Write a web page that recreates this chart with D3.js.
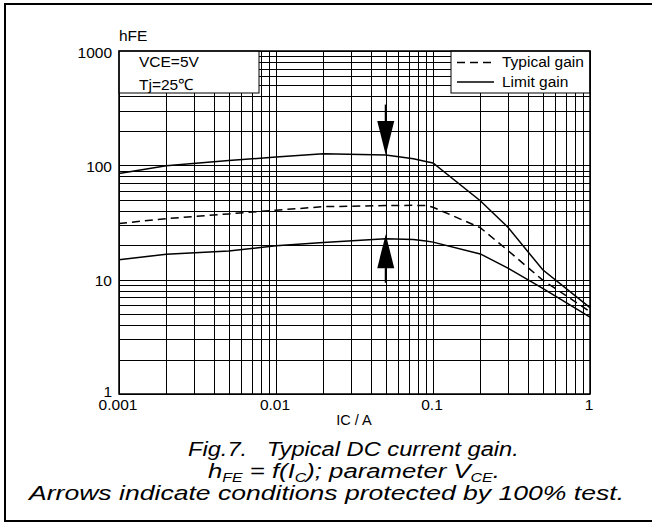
<!DOCTYPE html>
<html>
<head>
<meta charset="utf-8">
<script src="https://cdn.jsdelivr.net/npm/d3@7/dist/d3.min.js"></script>
<style>
  html, body { margin: 0; padding: 0; background: #fff; }
  svg { display: block; }
  text { font-family: "Liberation Sans", Arial, sans-serif; fill: #000; }
</style>
</head>
<body>
<svg id="chart" width="652" height="525"></svg>
<script>
// ---- data ----
const icValues      = [0.001, 0.002, 0.005, 0.01, 0.02, 0.05, 0.075, 0.09, 0.1, 0.2, 0.3, 0.5, 1];
const limitUpper    = [85, 99, 110, 118, 126, 123, 114, 108, 105, 49, 28.7, 12.2, 5.7];
const typicalGain   = [31, 34.2, 37.6, 40.5, 43.5, 44.5, 44.7, 44.5, 43, 28.5, 18, 9.9, 5.25];
const limitLower    = [14.9, 16.7, 17.8, 19.8, 21.1, 22.8, 22.5, 21.8, 21.3, 16.8, 12.6, 8.4, 4.7];
const xTickValues   = [0.001, 0.01, 0.1, 1];
const xTickLabels   = ["0.001", "0.01", "0.1", "1"];
const yTickValues   = [1, 10, 100, 1000];
const yTickLabels   = ["1", "10", "100", "1000"];
const arrowDown     = { ic: 0.05, from: 340, to: 123 };
const arrowUp       = { ic: 0.05, from: 9.4, to: 25 };
const conditions    = ["VCE=5V", "Tj=25\u2103"];
const legendLabels  = ["Typical gain", "Limit gain"];

// ---- layout ----
const svg = d3.select("#chart");
const L = 119, R = 590, T = 51, B = 394;
const x = d3.scaleLog().domain([0.001, 1]).range([L, R]);
const y = d3.scaleLog().domain([1, 1000]).range([B, T]);

// outer frame
svg.append("rect").attr("x", 5).attr("y", 4).attr("width", 660).attr("height", 517)
  .attr("fill", "none").attr("stroke", "#000").attr("stroke-width", 2);

// grid
const gx = [];
for (let d = 0.001; d < 1; d *= 10) for (let m = 1; m <= 9; m++) gx.push(+(d * m).toPrecision(3));
gx.push(1);
const gy = [];
for (let d = 1; d < 1000; d *= 10) for (let m = 1; m <= 9; m++) gy.push(d * m);
gy.push(1000);

const grid = svg.append("g").attr("stroke", "#000").attr("stroke-width", 1).attr("shape-rendering", "crispEdges");
grid.selectAll("line.v").data(gx).join("line").attr("class", "v")
  .attr("x1", d => Math.round(x(d)) + 0.5).attr("x2", d => Math.round(x(d)) + 0.5)
  .attr("y1", T).attr("y2", B);
grid.selectAll("line.h").data(gy).join("line").attr("class", "h")
  .attr("x1", L).attr("x2", R)
  .attr("y1", d => Math.round(y(d)) + 0.5).attr("y2", d => Math.round(y(d)) + 0.5);

// curves
const line = d3.line().x((d, i) => x(icValues[i])).y(d => y(d));
const curves = svg.append("g").attr("fill", "none").attr("stroke", "#000").attr("stroke-width", 1.5);
curves.append("path").attr("d", line(limitUpper));
curves.append("path").attr("d", line(limitLower));
curves.append("path").attr("d", line(typicalGain)).attr("stroke-dasharray", "8,5");

// arrows
function arrow(a) {
  const ax = x(a.ic), y0 = y(a.from), y1 = y(a.to);
  const dir = y1 > y0 ? 1 : -1;
  const headLen = 34, headW = 8.5;
  svg.append("line").attr("x1", ax).attr("x2", ax).attr("y1", y0).attr("y2", y1 - dir * headLen)
    .attr("stroke", "#000").attr("stroke-width", 2);
  svg.append("path")
    .attr("d", `M${ax},${y1} L${ax - headW},${y1 - dir * headLen} L${ax + headW},${y1 - dir * headLen} Z`)
    .attr("fill", "#000");
}
arrow(arrowDown);
arrow(arrowUp);

// condition box
svg.append("rect").attr("x", L).attr("y", T).attr("width", 140).attr("height", 42)
  .attr("fill", "#fff").attr("stroke", "#000").attr("stroke-width", 1);
svg.selectAll("text.cond").data(conditions).join("text").attr("class", "cond")
  .attr("x", 139).attr("y", (d, i) => 67 + i * 22.5).attr("font-size", 15.5).text(d => d);

// legend box
svg.append("rect").attr("x", 451).attr("y", T).attr("width", R - 451).attr("height", 42)
  .attr("fill", "#fff").attr("stroke", "#000").attr("stroke-width", 1);
const lg = svg.append("g");
legendLabels.forEach((lab, i) => {
  const ly = 62.5 + i * 19.5;
  lg.append("line").attr("x1", 457).attr("x2", 494).attr("y1", ly).attr("y2", ly)
    .attr("stroke", "#000").attr("stroke-width", 1.5)
    .attr("stroke-dasharray", i === 0 ? "8,5" : null);
  lg.append("text").attr("x", 502).attr("y", ly + 4.5).attr("font-size", 15.5).text(lab);
});

// plot frame
svg.append("rect").attr("x", L).attr("y", T).attr("width", R - L).attr("height", B - T)
  .attr("fill", "none").attr("stroke", "#000").attr("stroke-width", 1.5);

// y ticks
svg.selectAll("text.yt").data(yTickValues).join("text").attr("class", "yt")
  .attr("x", 112).attr("y", (d, i) => y(d) + (d === 1 ? 3 : 6.5))
  .attr("text-anchor", "end").attr("font-size", 15.5).text((d, i) => yTickLabels[i]);
// x ticks
svg.selectAll("text.xt").data(xTickValues).join("text").attr("class", "xt")
  .attr("x", d => x(d) - 1).attr("y", 410)
  .attr("text-anchor", "middle").attr("font-size", 15.5).text((d, i) => xTickLabels[i]);

// axis titles
svg.append("text").attr("x", 119).attr("y", 41).attr("font-size", 15.5).text("hFE");
svg.append("text").attr("x", 354).attr("y", 425).attr("text-anchor", "middle").attr("font-size", 14.5).text("IC / A");

// caption, fitted to the reference extents
function fit(sel, left, right) {
  const w = sel.node().getBBox().width;
  const s = (right - left) / w;
  sel.attr("transform", `translate(${left},0) scale(${s},1) translate(${-left},0)`);
}
const cap = svg.append("g").attr("font-style", "italic");
const t1 = cap.append("text").attr("x", 188).attr("y", 456).attr("font-size", 21)
  .attr("xml:space", "preserve").text("Fig.7.   Typical DC current gain.");
fit(t1, 188, 519);
const t2 = cap.append("text").attr("x", 208).attr("y", 478).attr("font-size", 21);
t2.append("tspan").text("h");
t2.append("tspan").attr("font-size", 13).attr("dy", 4).text("FE");
t2.append("tspan").attr("dy", -4).text(" = f(I");
t2.append("tspan").attr("font-size", 13).attr("dy", 4).text("C");
t2.append("tspan").attr("dy", -4).text("); parameter V");
t2.append("tspan").attr("font-size", 13).attr("dy", 4).text("CE");
t2.append("tspan").attr("dy", -4).text(".");
fit(t2, 208, 500);
const t3 = cap.append("text").attr("x", 29).attr("y", 500).attr("font-size", 21)
  .text("Arrows indicate conditions protected by 100% test.");
fit(t3, 29, 627);
</script>
</body>
</html>
